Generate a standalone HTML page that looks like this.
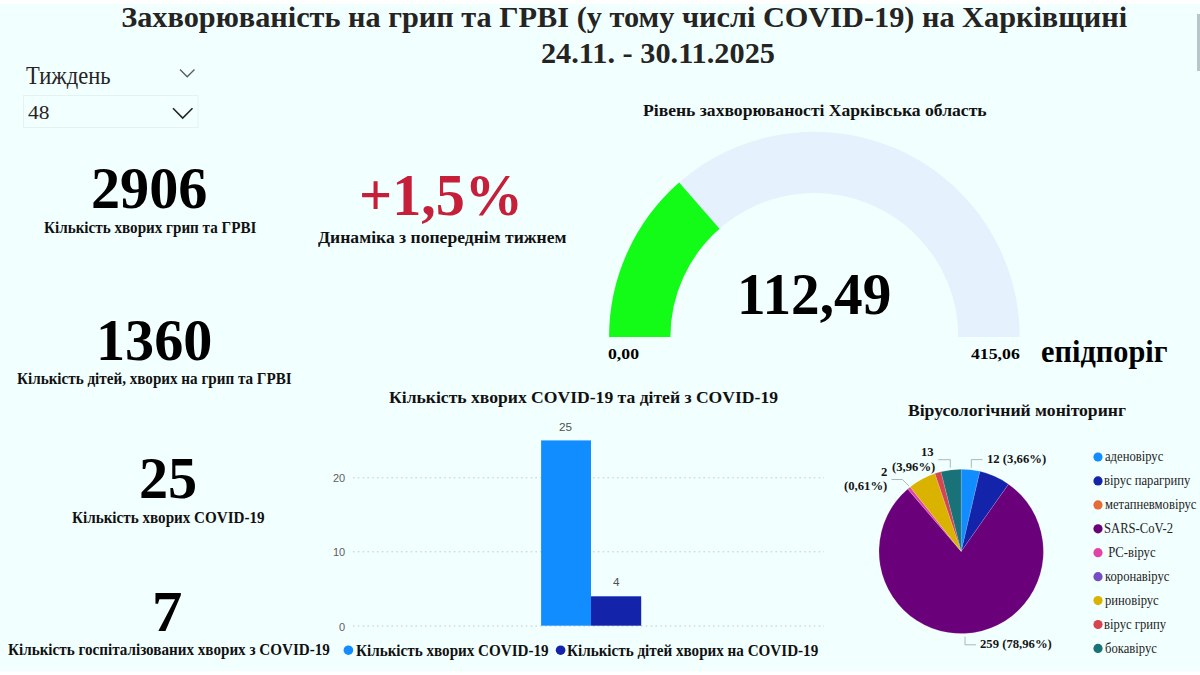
<!DOCTYPE html>
<html>
<head>
<meta charset="utf-8">
<style>
html,body{margin:0;padding:0;}
body{width:1200px;height:675px;overflow:hidden;background:#fff;position:relative;font-family:"Liberation Serif",serif;color:#252423;}
#bg{position:absolute;left:0;top:4px;width:1200px;height:667px;background:#F2FFFF;}
.a{position:absolute;white-space:nowrap;line-height:1.15;transform-origin:0 0;}
svg.s{position:absolute;left:0;top:0;}
</style>
</head>
<body>
<div id="bg"></div>
<div id="scroll" style="position:absolute;left:1197px;top:14px;width:3px;height:57px;background:#B9C4CB;"></div>

<svg class="s" width="1200" height="675" viewBox="0 0 1200 675">
  <!-- slicer -->
  <polyline points="180,69.5 187.2,76.8 194.5,69.5" fill="none" stroke="#5A5A5A" stroke-width="1.3"/>
  <rect x="23.5" y="95.5" width="174.5" height="32" fill="none" stroke="#E6F1F2" stroke-width="1"/>
  <polyline points="173,108.3 182.7,118 192.5,108.3" fill="none" stroke="#252423" stroke-width="1.6"/>

  <!-- gauge -->
  <path d="M609.10,337.00 A205.30,205.30 0 0 1 814.40,131.70 L814.40,193.00 A144.00,144.00 0 0 0 670.40,337.00 Z M814.40,131.70 A205.30,205.30 0 0 1 1019.70,337.00 L958.40,337.00 A144.00,144.00 0 0 0 814.40,193.00 Z" fill="#E5F1FD"/>
  <path d="M609.10,337.00 A205.30,205.30 0 0 1 679.13,182.57 L719.52,228.68 A144.00,144.00 0 0 0 670.40,337.00 Z" fill="#12FC18"/>

  <!-- bar chart grid -->
  <g stroke="#C8C8C8" stroke-width="1" stroke-dasharray="1.6 3.2">
    <line x1="353" y1="477.8" x2="824" y2="477.8"/>
    <line x1="353" y1="551.8" x2="824" y2="551.8"/>
    <line x1="353" y1="626" x2="824" y2="626"/>
  </g>
  <rect x="541.1" y="440.4" width="49.9" height="185.3" fill="#118DFF"/>
  <rect x="591" y="596.3" width="50.2" height="29.4" fill="#1424AA"/>
  <circle cx="348.4" cy="650.2" r="4.8" fill="#118DFF"/>
  <circle cx="560.6" cy="650.2" r="4.8" fill="#1424AA"/>

  <!-- pie -->
  <g stroke="rgba(255,255,255,0.35)" stroke-width="0.4">
<path d="M961.2,551.4 L961.20,469.20 A82.2,82.2 0 0 1 979.93,471.36 Z" fill="#118DFF"/>
<path d="M961.2,551.4 L979.93,471.36 A82.2,82.2 0 0 1 1008.49,484.17 Z" fill="#1424AA"/>
<path d="M961.2,551.4 L1008.49,484.17 A82.2,82.2 0 1 1 907.70,489.00 Z" fill="#6B007B"/>
<path d="M961.2,551.4 L907.70,489.00 A82.2,82.2 0 0 1 910.13,486.99 Z" fill="#E044A7"/>
<path d="M961.2,551.4 L910.13,486.99 A82.2,82.2 0 0 1 934.90,473.52 Z" fill="#D9B300"/>
<path d="M961.2,551.4 L934.90,473.52 A82.2,82.2 0 0 1 940.94,471.74 Z" fill="#D64550"/>
<path d="M961.2,551.4 L940.94,471.74 A82.2,82.2 0 0 1 961.20,469.20 Z" fill="#197278"/>
  </g>
  <g fill="none" stroke="#AEB6B8" stroke-width="1">
    <polyline points="982.5,459.6 971.3,459.6 971.3,467.7"/>
    <polyline points="938.3,459.7 950.3,459.7 950.3,467.7"/>
    <polyline points="891.5,479.5 902.5,479.5 909,486"/>
    <polyline points="965,636.7 965,644.8 976,644.8"/>
  </g>
  <g>
    <circle cx="1098" cy="457.0" r="4.6" fill="#118DFF"/>
    <circle cx="1098" cy="480.9" r="4.6" fill="#1424AA"/>
    <circle cx="1098" cy="504.9" r="4.6" fill="#E66C37"/>
    <circle cx="1098" cy="528.8" r="4.6" fill="#6B007B"/>
    <circle cx="1098" cy="552.7" r="4.6" fill="#E044A7"/>
    <circle cx="1098" cy="576.7" r="4.6" fill="#744EC2"/>
    <circle cx="1098" cy="600.6" r="4.6" fill="#D9B300"/>
    <circle cx="1098" cy="624.5" r="4.6" fill="#D64550"/>
    <circle cx="1098" cy="648.4" r="4.6" fill="#197278"/>
  </g>
</svg>

<div class="a" id="t1" style="left:121.20px;top:0.27px;font-size:30.31px;font-weight:700;color:#252423;font-family:'Liberation Serif', serif;">Захворюваність на грип та ГРВІ (у тому числі COVID-19) на Харківщині</div>
<div class="a" id="t2" style="left:540.97px;top:36.46px;font-size:30.31px;font-weight:700;color:#252423;font-family:'Liberation Serif', serif;">24.11. - 30.11.2025</div>
<div class="a" id="sl1" style="left:25.85px;top:61.56px;font-size:24.77px;font-weight:400;color:#252423;font-family:'Liberation Serif', serif;transform:scaleX(0.9087);">Тиждень</div>
<div class="a" id="sl2" style="left:27.57px;top:101.56px;font-size:19.40px;font-weight:400;color:#252423;font-family:'Liberation Serif', serif;transform:scaleX(1.1075);">48</div>
<div class="a" id="k1" style="left:91.46px;top:155.11px;font-size:58.81px;font-weight:700;color:#000000;font-family:'Liberation Serif', serif;transform:scaleX(0.9905);">2906</div>
<div class="a" id="k3" style="left:95.94px;top:306.71px;font-size:58.81px;font-weight:700;color:#000000;font-family:'Liberation Serif', serif;transform:scaleX(0.9905);">1360</div>
<div class="a" id="k4" style="left:139.18px;top:445.06px;font-size:58.81px;font-weight:700;color:#000000;font-family:'Liberation Serif', serif;transform:scaleX(0.9905);">25</div>
<div class="a" id="k5" style="left:152.16px;top:578.88px;font-size:57.01px;font-weight:700;color:#000000;font-family:'Liberation Serif', serif;transform:scaleX(1.0649);">7</div>
<div class="a" id="k2" style="left:359.29px;top:161.63px;font-size:58.36px;font-weight:700;color:#C51F3A;font-family:'Liberation Serif', serif;transform:scaleX(0.9968);">+1,5%</div>
<div class="a" id="gv" style="left:737.17px;top:262.42px;font-size:58.21px;font-weight:700;color:#000000;font-family:'Liberation Serif', serif;transform:scaleX(0.9838);">112,49</div>
<div class="a" id="k1l" style="left:43.54px;top:219.04px;font-size:16.00px;font-weight:700;color:#111111;font-family:'Liberation Serif', serif;transform:scaleX(0.9450);">Кількість хворих грип та ГРВІ</div>
<div class="a" id="k3l" style="left:16.54px;top:370.34px;font-size:16.00px;font-weight:700;color:#111111;font-family:'Liberation Serif', serif;transform:scaleX(0.9450);">Кількість дітей, хворих на грип та ГРВІ</div>
<div class="a" id="k4l" style="left:71.61px;top:508.64px;font-size:16.00px;font-weight:700;color:#111111;font-family:'Liberation Serif', serif;transform:scaleX(0.9450);">Кількість хворих COVID-19</div>
<div class="a" id="k5l" style="left:7.50px;top:640.99px;font-size:16.00px;font-weight:700;color:#111111;font-family:'Liberation Serif', serif;transform:scaleX(0.9450);">Кількість госпіталізованих хворих з COVID-19</div>
<div class="a" id="lg1" style="left:355.91px;top:641.74px;font-size:16.00px;font-weight:700;color:#111111;font-family:'Liberation Serif', serif;transform:scaleX(0.9450);">Кількість хворих COVID-19</div>
<div class="a" id="lg2" style="left:567.41px;top:641.74px;font-size:16.00px;font-weight:700;color:#111111;font-family:'Liberation Serif', serif;transform:scaleX(0.9450);">Кількість дітей хворих на COVID-19</div>
<div class="a" id="k2l" style="left:318.32px;top:227.52px;font-size:17.23px;font-weight:700;color:#111111;font-family:'Liberation Serif', serif;transform:scaleX(1.0215);">Динаміка з попереднім тижнем</div>
<div class="a" id="gt" style="left:642.55px;top:101.84px;font-size:16.00px;font-weight:700;color:#111111;font-family:'Liberation Serif', serif;transform:scaleX(1.0996);">Рівень захворюваності Харківська область</div>
<div class="a" id="bt" style="left:388.63px;top:388.64px;font-size:16.00px;font-weight:700;color:#111111;font-family:'Liberation Serif', serif;transform:scaleX(1.0996);">Кількість хворих COVID-19 та дітей з COVID-19</div>
<div class="a" id="pt" style="left:908.40px;top:402.24px;font-size:16.00px;font-weight:700;color:#111111;font-family:'Liberation Serif', serif;transform:scaleX(1.0996);">Вірусологічний моніторинг</div>
<div class="a" id="g0" style="left:608.47px;top:344.91px;font-size:15.45px;font-weight:700;color:#000000;font-family:'Liberation Serif', serif;transform:scaleX(1.1486);">0,00</div>
<div class="a" id="g1" style="left:971.38px;top:345.06px;font-size:15.45px;font-weight:700;color:#000000;font-family:'Liberation Serif', serif;transform:scaleX(1.1486);">415,06</div>
<div class="a" id="g2" style="left:1040.59px;top:334.01px;font-size:31.30px;font-weight:700;color:#000000;font-family:'Liberation Serif', serif;transform:scaleX(0.9696);">епідпоріг</div>
<div class="a" id="ax20" style="left:333.21px;top:471.91px;font-size:10.99px;font-weight:400;color:#605E5C;font-family:'Liberation Sans', sans-serif;transform:scaleX(1.0022);">20</div>
<div class="a" id="ax10" style="left:333.42px;top:546.38px;font-size:10.99px;font-weight:400;color:#605E5C;font-family:'Liberation Sans', sans-serif;transform:scaleX(1.0022);">10</div>
<div class="a" id="ax0" style="left:339.02px;top:620.58px;font-size:10.99px;font-weight:400;color:#605E5C;font-family:'Liberation Sans', sans-serif;transform:scaleX(1.0022);">0</div>
<div class="a" id="dl25" style="left:559.29px;top:421.52px;font-size:10.49px;font-weight:400;color:#505050;font-family:'Liberation Sans', sans-serif;transform:scaleX(1.1169);">25</div>
<div class="a" id="dl4" style="left:612.98px;top:577.27px;font-size:10.49px;font-weight:400;color:#505050;font-family:'Liberation Sans', sans-serif;transform:scaleX(1.1169);">4</div>
<div class="a" id="pl12" style="left:986.64px;top:451.91px;font-size:12.84px;font-weight:700;color:#151515;font-family:'Liberation Serif', serif;transform:scaleX(0.9882);">12 (3,66%)</div>
<div class="a" id="pl13" style="left:921.49px;top:445.46px;font-size:12.84px;font-weight:700;color:#151515;font-family:'Liberation Serif', serif;transform:scaleX(0.9882);">13</div>
<div class="a" id="pl396" style="left:891.52px;top:459.96px;font-size:12.84px;font-weight:700;color:#151515;font-family:'Liberation Serif', serif;transform:scaleX(0.9882);">(3,96%)</div>
<div class="a" id="pl2" style="left:881.18px;top:464.81px;font-size:12.84px;font-weight:700;color:#151515;font-family:'Liberation Serif', serif;transform:scaleX(0.9882);">2</div>
<div class="a" id="pl061" style="left:844.37px;top:479.21px;font-size:12.84px;font-weight:700;color:#151515;font-family:'Liberation Serif', serif;transform:scaleX(0.9882);">(0,61%)</div>
<div class="a" id="pl259" style="left:980.15px;top:637.31px;font-size:12.84px;font-weight:700;color:#151515;font-family:'Liberation Serif', serif;transform:scaleX(0.9882);">259 (78,96%)</div>
<div class="a" id="pg1" style="left:1104.60px;top:448.06px;font-size:14.22px;font-weight:400;color:#252423;font-family:'Liberation Serif', serif;transform:scaleX(0.8887);">аденовірус</div>
<div class="a" id="pg2" style="left:1104.26px;top:471.99px;font-size:14.22px;font-weight:400;color:#252423;font-family:'Liberation Serif', serif;transform:scaleX(0.8887);">вірус парагрипу</div>
<div class="a" id="pg3" style="left:1104.56px;top:495.92px;font-size:14.22px;font-weight:400;color:#252423;font-family:'Liberation Serif', serif;transform:scaleX(0.8887);">метапневмовірус</div>
<div class="a" id="pg4" style="left:1104.42px;top:519.85px;font-size:14.22px;font-weight:400;color:#252423;font-family:'Liberation Serif', serif;transform:scaleX(0.8887);">SARS-CoV-2</div>
<div class="a" id="pg5" style="left:1104.54px;top:543.78px;font-size:14.22px;font-weight:400;color:#252423;font-family:'Liberation Serif', serif;transform:scaleX(0.8887);">&nbsp;РС-вірус</div>
<div class="a" id="pg6" style="left:1104.85px;top:567.71px;font-size:14.22px;font-weight:400;color:#252423;font-family:'Liberation Serif', serif;transform:scaleX(0.8887);">коронавірус</div>
<div class="a" id="pg7" style="left:1104.86px;top:591.64px;font-size:14.22px;font-weight:400;color:#252423;font-family:'Liberation Serif', serif;transform:scaleX(0.8887);">риновірус</div>
<div class="a" id="pg8" style="left:1104.40px;top:615.57px;font-size:14.22px;font-weight:400;color:#252423;font-family:'Liberation Serif', serif;transform:scaleX(0.8887);">вірус грипу</div>
<div class="a" id="pg9" style="left:1104.66px;top:639.50px;font-size:14.22px;font-weight:400;color:#252423;font-family:'Liberation Serif', serif;transform:scaleX(0.8887);">бокавірус</div>

</body>
</html>
